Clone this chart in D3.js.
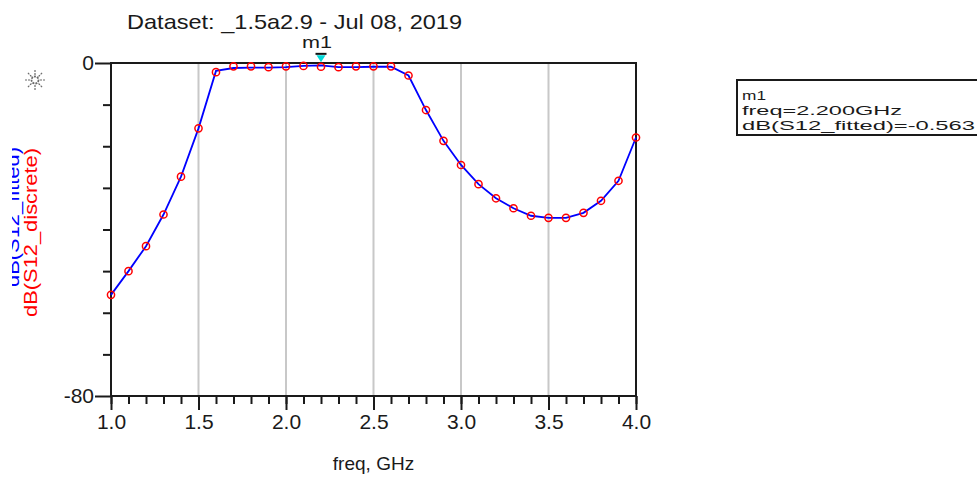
<!DOCTYPE html>
<html>
<head>
<meta charset="utf-8">
<script src="https://cdn.jsdelivr.net/npm/d3@7"></script>
<style>
  body { margin: 0; background: #fff; }
  svg { display: block; font-family: "Liberation Sans", Arial, sans-serif; }
</style>
</head>
<body>
<div id="wrapper"></div>
<script>
// frequency points, GHz
const freq = [1.0, 1.1, 1.2, 1.3, 1.4, 1.5, 1.6, 1.7, 1.8, 1.9, 2.0,
              2.1, 2.2, 2.3, 2.4, 2.5, 2.6, 2.7, 2.8, 2.9, 3.0,
              3.1, 3.2, 3.3, 3.4, 3.5, 3.6, 3.7, 3.8, 3.9, 4.0];
// dB(S12_discrete)
const s12Discrete = [-55.7, -50.0, -44.0, -36.4, -27.3, -15.7, -2.2, -0.8, -0.8, -1.0, -0.8,
                     -0.7, -0.9, -1.0, -0.8, -0.8, -0.8, -3.0, -11.3, -18.7, -24.5,
                     -29.1, -32.5, -34.9, -36.7, -37.2, -37.2, -36.0, -33.1, -28.3, -17.9];
// dB(S12_fitted)
const s12Fitted = [-55.7, -50.0, -44.0, -36.4, -27.3, -15.7, -1.9, -1.2, -1.1, -1.1, -1.0,
                   -0.7, -0.563, -1.0, -1.0, -0.9, -0.9, -3.0, -11.3, -18.7, -24.5,
                   -29.1, -32.5, -34.9, -36.7, -37.2, -37.2, -36.0, -33.1, -28.3, -17.9];
const xTicks = [1.0, 1.5, 2.0, 2.5, 3.0, 3.5, 4.0];
const yTicks = [0, -80];
const title = "Dataset: _1.5a2.9 - Jul 08, 2019";
const markerFreq = 2.2;
const markerLines = ["m1", "freq=2.200GHz", "dB(S12_fitted)=-0.563"];
const markerWidths = [24, 160, 233];

const dimension = {
    width: 977,
    height: 478,
    margin: { top: 63, left: 111, bottom: 82, right: 341 }
};
dimension.boundedWidth = dimension.width - dimension.margin.left - dimension.margin.right;
dimension.boundedHeight = dimension.height - dimension.margin.top - dimension.margin.bottom;

const svg = d3.select("#wrapper").append("svg")
    .attr("width", dimension.width)
    .attr("height", dimension.height);

const xScaler = d3.scaleLinear().domain([1, 4]).range([0, dimension.boundedWidth]);
const yScaler = d3.scaleLinear().domain([-80, 0]).range([dimension.boundedHeight, 0]);

const bounded = svg.append("g")
    .attr("transform", `translate(${dimension.margin.left},${dimension.margin.top})`);

// vertical grid
bounded.append("g").selectAll("line")
    .data(xTicks.slice(1, -1))
    .join("line")
    .attr("x1", d => xScaler(d)).attr("x2", d => xScaler(d))
    .attr("y1", 0).attr("y2", dimension.boundedHeight)
    .attr("stroke", "#c8c8c8").attr("stroke-width", 2);

// frame
bounded.append("rect")
    .attr("width", dimension.boundedWidth)
    .attr("height", dimension.boundedHeight)
    .attr("fill", "none")
    .attr("stroke", "#1a1a1a").attr("stroke-width", 2);

// x axis: minor ticks every 0.1, major every 0.5
const xMinor = d3.range(10, 41).map(d => d / 10);
const xAxis = bounded.append("g")
    .attr("transform", `translate(0,${dimension.boundedHeight})`);
xAxis.call(d3.axisBottom(xScaler).tickValues(xMinor).tickSize(8).tickFormat(""))
    .call(g => g.select(".domain").remove());
xAxis.append("g")
    .call(d3.axisBottom(xScaler).tickValues(xTicks).tickSize(14).tickPadding(4).tickFormat(d3.format(".1f")))
    .call(g => g.select(".domain").remove());
xAxis.selectAll("line").attr("stroke", "#1a1a1a").attr("stroke-width", 2);
xAxis.selectAll("text")
    .attr("font-size", 21).attr("font-family", "Liberation Sans, Arial, sans-serif")
    .attr("fill", "#1a1a1a");

// y axis: minor ticks every 10 dB, labels only at 0 and -80
const yMinor = d3.range(-70, 0, 10);
const yAxis = bounded.append("g");
yAxis.call(d3.axisLeft(yScaler).tickValues(yMinor).tickSize(8).tickFormat(""))
    .call(g => g.select(".domain").remove());
const yMajor = yAxis.append("g")
    .call(d3.axisLeft(yScaler).tickValues(yTicks).tickSize(16).tickPadding(1)
        .tickFormat(d => d < 0 ? "-" + Math.abs(d) : String(d)))
    .call(g => g.select(".domain").remove());
yAxis.selectAll("line").attr("stroke", "#1a1a1a").attr("stroke-width", 2);
yMajor.selectAll("text")
    .attr("font-size", 21).attr("font-family", "Liberation Sans, Arial, sans-serif")
    .attr("fill", "#1a1a1a");

// fitted line
const lineGenerator = d3.line()
    .x((d, i) => xScaler(freq[i]))
    .y(d => yScaler(d));
bounded.append("path")
    .attr("d", lineGenerator(s12Fitted))
    .attr("fill", "none")
    .attr("stroke", "#0000ff")
    .attr("stroke-width", 1.8);

// discrete points
bounded.append("g").selectAll("circle")
    .data(s12Discrete)
    .join("circle")
    .attr("cx", (d, i) => xScaler(freq[i]))
    .attr("cy", d => yScaler(d))
    .attr("r", 3.6)
    .attr("fill", "none")
    .attr("stroke", "#ff0000")
    .attr("stroke-width", 1.5);

// marker m1
const mx = xScaler(markerFreq);
const my = yScaler(s12Fitted[freq.indexOf(markerFreq)]) - 3;
bounded.append("path")
    .attr("d", `M${mx - 4.5},${my - 7} L${mx + 4.5},${my - 7} L${mx},${my} Z`)
    .attr("fill", "#00d8d8");
bounded.append("line")
    .attr("x1", mx - 5.5).attr("x2", mx + 5.5)
    .attr("y1", my - 8.5).attr("y2", my - 8.5)
    .attr("stroke", "#111").attr("stroke-width", 2);
bounded.append("text")
    .attr("x", mx - 19).attr("y", my - 14)
    .attr("font-size", 16).attr("fill", "#1a1a1a")
    .attr("textLength", 30).attr("lengthAdjust", "spacingAndGlyphs")
    .text("m1");

// title
svg.append("text")
    .attr("x", 127).attr("y", 29)
    .attr("font-size", 21).attr("fill", "#1a1a1a")
    .attr("textLength", 335).attr("lengthAdjust", "spacingAndGlyphs")
    .text(title);

// x label
svg.append("text")
    .attr("x", dimension.margin.left + dimension.boundedWidth / 2)
    .attr("y", 470)
    .attr("text-anchor", "middle")
    .attr("font-size", 19).attr("fill", "#1a1a1a")
    .text("freq, GHz");

// y labels (blue one clipped on its left side, as in the source)
svg.append("clipPath").attr("id", "ylabclip")
    .append("rect").attr("x", 12).attr("y", 0).attr("width", 40).attr("height", dimension.height);
svg.append("g")
    .attr("clip-path", "url(#ylabclip)")
    .append("text")
    .attr("transform", "translate(19,287) rotate(-90)")
    .attr("font-size", 19).attr("fill", "#0000ff")
    .attr("textLength", 140).attr("lengthAdjust", "spacingAndGlyphs")
    .text("dB(S12_fitted)");
svg.append("text")
    .attr("transform", "translate(37,317) rotate(-90)")
    .attr("font-size", 19).attr("fill", "#ff0000")
    .attr("textLength", 169).attr("lengthAdjust", "spacingAndGlyphs")
    .text("dB(S12_discrete)");

// little sun icon
const sun = svg.append("g").attr("transform", "translate(35,80)").attr("stroke", "#6a6a6a");
d3.range(8).forEach(k => {
    const a = k * Math.PI / 4;
    sun.append("line")
        .attr("x1", 5 * Math.cos(a)).attr("y1", 5 * Math.sin(a))
        .attr("x2", 11 * Math.cos(a)).attr("y2", 11 * Math.sin(a))
        .attr("stroke-width", 1.2).attr("stroke-dasharray", "2,1");
});
sun.append("circle").attr("r", 3.5).attr("fill", "none").attr("stroke-width", 1.8).attr("stroke-dasharray", "2,1");

// marker readout box
const box = svg.append("g").attr("transform", "translate(737,80)");
box.append("rect")
    .attr("width", 260).attr("height", 55)
    .attr("fill", "#fff").attr("stroke", "#1a1a1a").attr("stroke-width", 2);
box.selectAll("text")
    .data(markerLines)
    .join("text")
    .attr("x", 5)
    .attr("y", (d, i) => 19.5 + i * 15.2)
    .attr("font-size", 13.5).attr("fill", "#1a1a1a")
    .attr("textLength", (d, i) => markerWidths[i]).attr("lengthAdjust", "spacingAndGlyphs")
    .text(d => d);
</script>
</body>
</html>
